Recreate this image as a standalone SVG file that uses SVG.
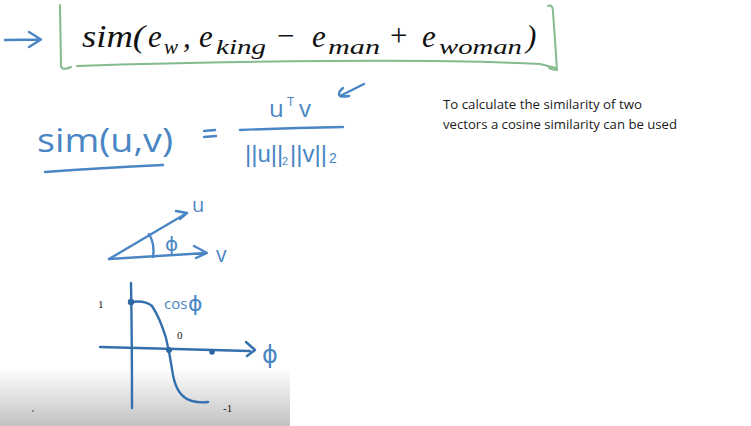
<svg xmlns="http://www.w3.org/2000/svg" width="751" height="426" viewBox="0 0 751 426">
<defs>
<linearGradient id="fade" x1="0" y1="0" x2="0" y2="1">
<stop offset="0" stop-color="#ffffff"/>
<stop offset="1" stop-color="#c2c2c2"/>
</linearGradient>
<style>
.ink{fill:none;stroke:#4a86c4;stroke-width:2.4;stroke-linecap:round;stroke-linejoin:round}
.dark{fill:none;stroke:#3470ad;stroke-width:2.4;stroke-linecap:round;stroke-linejoin:round}
.dot{fill:#2f67a3}
.hand{font-family:"Open Sans","DejaVu Sans",sans-serif;fill:#4a86c4}
.bars{font-family:"Liberation Sans",Arial,sans-serif;fill:#4a86c4}
.phi{font-family:"DejaVu Sans",sans-serif;fill:#4a86c4}
.math{font-family:"Liberation Serif",serif;font-style:italic;fill:#111}
.note{font-family:"Open Sans","Liberation Sans",sans-serif;font-size:12px;fill:#1a1a1a}
.lbl{font-family:"Liberation Serif",serif;font-size:11px;fill:#111}
.green{fill:none;stroke:#84bb8f;stroke-width:2;stroke-linecap:round;stroke-linejoin:round}
</style>
</defs>
<rect width="751" height="426" fill="#fff"/>
<rect x="0" y="368" width="290" height="58" fill="url(#fade)"/>
<circle cx="33" cy="411" r="1" fill="#777"/>

<g id="title">
<path class="ink" d="M5 40 L40 39.5 M29 32 L41 39.5 L29 47"/>
<path class="green" d="M60 5 L61 66 Q62 71 71 67"/>
<path class="green" d="M77 66 Q200 62 330 61 Q460 60 540 64 L556 68"/>
<path class="green" d="M548 6 Q553 4 553 12 L555 40 L557 70 Q553 70 549 68"/>
<text class="math" font-size="31">
<tspan x="82" y="47" textLength="63" lengthAdjust="spacingAndGlyphs">sim(</tspan><tspan x="148" y="47">e</tspan><tspan x="164" y="54" font-size="21">w</tspan><tspan x="183" y="47">,</tspan><tspan x="199" y="47">e</tspan><tspan x="216" y="54" font-size="21" textLength="50" lengthAdjust="spacingAndGlyphs">king</tspan><tspan x="277" y="46" font-style="normal">−</tspan><tspan x="312" y="47">e</tspan><tspan x="328" y="54" font-size="21" textLength="52" lengthAdjust="spacingAndGlyphs">man</tspan><tspan x="390" y="46" font-style="normal">+</tspan><tspan x="422" y="47">e</tspan><tspan x="439" y="54" font-size="21" textLength="83" lengthAdjust="spacingAndGlyphs">woman</tspan><tspan x="526" y="47">)</tspan>
</text>
</g>

<g id="formula">
<text class="hand" x="37" y="152" font-size="32" textLength="136" lengthAdjust="spacingAndGlyphs">sim(u,v)</text>
<path class="ink" d="M45 172 Q100 168 163 165"/>
<path class="ink" d="M204 131 L215 130 M204 137 L216 136"/>
<text class="hand" x="269" y="117" font-size="24">u</text>
<text class="hand" x="287" y="106" font-size="13">T</text>
<text class="hand" x="299" y="117" font-size="24">v</text>
<path class="ink" d="M240 130 Q290 128 343 127"/>
<text class="bars" x="245" y="162" font-size="24">||u||</text>
<text class="bars" x="282" y="165" font-size="11">2</text>
<text class="bars" x="290" y="162" font-size="24">||v||</text>
<text class="bars" x="329" y="163" font-size="14">2</text>
<path class="ink" d="M364 84 Q352 90 340 96 M343 88 Q337 93 340 96 Q344 97 349 96"/>
</g>

<g id="note">
<text class="note" x="443" y="109" textLength="199" lengthAdjust="spacingAndGlyphs">To calculate the similarity of two</text>
<text class="note" x="443" y="129" textLength="234" lengthAdjust="spacingAndGlyphs">vectors a cosine similarity can be used</text>
</g>

<g id="angle">
<path class="ink" d="M109 259 L187 213 M176 211 L187 213 L180 219"/>
<path class="ink" d="M109 259 L206 253 M194 246 L207 253 L196 258"/>
<path class="ink" d="M149 234 Q155 244 153 257"/>
<text class="phi" x="165" y="251" font-size="20">ϕ</text>
<text class="hand" x="192" y="212" font-size="20">u</text>
<text class="hand" x="216" y="262" font-size="21">v</text>
</g>

<g id="graph">
<path class="dark" d="M131 283 Q132 340 132 408"/>
<path class="dark" d="M100 347 Q180 349 250 351 M246 342 L255 350 L247 356"/>
<path class="dark" d="M131 302 Q145 300 152 306 Q160 318 166 338 Q170 355 173 375 Q177 397 192 401 Q200 403 208 402"/>
<circle class="dot" cx="131" cy="302" r="3.2"/>
<circle class="dot" cx="169" cy="350" r="3"/>
<circle class="dot" cx="212" cy="352" r="2.8"/>
<text class="hand" x="164" y="309" font-size="15">cos</text>
<text class="phi" x="188" y="311" font-size="22">ϕ</text>
<text class="phi" x="262" y="363" font-size="24">ϕ</text>
<text class="lbl" x="98" y="308">1</text>
<text class="lbl" x="177" y="339">0</text>
<text class="lbl" x="223" y="412">-1</text>
</g>
</svg>
